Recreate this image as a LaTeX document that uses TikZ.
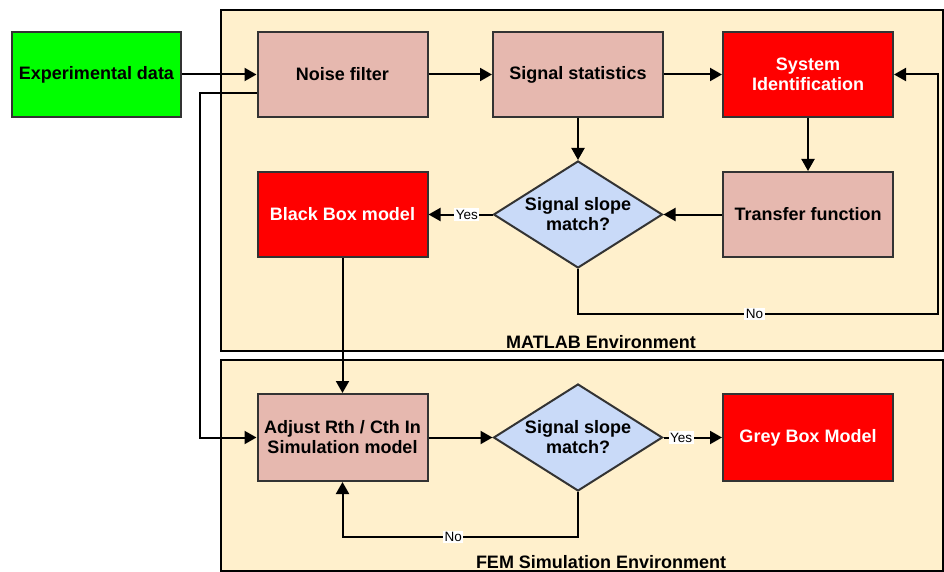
\documentclass[tikz,border=0pt]{standalone}
\usepackage{fontspec}
\setmainfont{Liberation Sans}
\usetikzlibrary{arrows.meta,shapes.geometric,positioning}
\definecolor{envfill}{HTML}{FFF0CC}
\definecolor{pinkfill}{HTML}{E6B8AF}
\definecolor{redfill}{HTML}{FF0000}
\definecolor{greenfill}{HTML}{00FF00}
\definecolor{bluefill}{HTML}{C9DAF8}
\definecolor{boxline}{HTML}{333333}
\tikzset{
  env/.style={draw=black, line width=2pt, fill=envfill},
  base/.style={draw=boxline, line width=2pt, minimum width=170pt, minimum height=85pt, inner sep=0pt, align=center, font=\fontsize{18}{20}\selectfont\bfseries},
  pinkbox/.style={base, fill=pinkfill, text=black},
  redbox/.style={base, fill=redfill, text=white},
  greenbox/.style={base, fill=greenfill, text=black},
  decision/.style={draw=boxline, line width=2pt, fill=bluefill, diamond, aspect=1.58, minimum width=169pt, minimum height=107pt, inner sep=0pt, align=center, font=\fontsize{18}{20}\selectfont\bfseries},
  conn/.style={draw=black, line width=2pt, -{Triangle[length=12pt,width=13pt]}},
  lbl/.style={fill=white, inner sep=1.5pt, font=\fontsize{13.5}{14}\selectfont},
  envlbl/.style={font=\fontsize{18}{20}\selectfont\bfseries},
}
\begin{document}
\begin{tikzpicture}[x=1pt,y=-1pt]
\useasboundingbox (0,0) rectangle (944,572);
% environments
\draw[env] (221,10) rectangle (943,351);
\draw[env] (221,360) rectangle (943,571);
\node[envlbl] (matlabl) at (601,342) {MATLAB Environment};
\node[envlbl] (feml) at (601,562) {FEM Simulation Environment};
% nodes
\node[greenbox, minimum width=169pt] (exp) at (96.5,74.5) {Experimental data};
\node[pinkbox] (noise) at (342.5,74.5) {Noise filter};
\node[pinkbox] (stats) at (578,74.5) {Signal statistics};
\node[redbox] (sysid) at (808,74.5) {System\\Identification};
\node[pinkbox] (tf) at (808,214.5) {Transfer function};
\node[decision] (d1) at (578,214.5) {Signal slope\\match?};
\node[redbox] (black) at (342.5,214.5) {Black Box model};
\node[pinkbox, minimum height=87pt] (adjust) at (342.5,437.5) {Adjust Rth / Cth In\\Simulation model};
\node[decision] (d2) at (578,437.5) {Signal slope\\match?};
\node[redbox, minimum height=87pt] (grey) at (808,437.5) {Grey Box Model};
% helper coordinates
\coordinate (nfout) at (257,93);
\coordinate (c1) at (200,93);
\coordinate (c2) at (200,437.5);
\coordinate (n1a) at (578,314);
\coordinate (n1b) at (938,314);
\coordinate (n1c) at (938,74.5);
\coordinate (n2a) at (578,537);
\coordinate (n2b) at (342.5,537);
% connectors
\draw[conn] (exp.east) -- (noise.west);
\draw[conn] (noise.east) -- (stats.west);
\draw[conn] (stats.east) -- (sysid.west);
\draw[conn] (sysid.south) -- (tf.north);
\draw[conn] (tf.west) -- (d1.east);
\draw[conn] (stats.south) -- (d1.north);
\draw[conn] (d1.west) -- node[lbl, pos=0.4] (yes1) {Yes} (black.east);
\draw[conn] (d1.south) -- (n1a) -- node[lbl, pos=0.49] (no1) {No} (n1b) -- (n1c) -- (sysid.east);
\draw[conn] (black.south) -- (adjust.north);
\draw[conn] (nfout) -- (c1) -- (c2) -- (adjust.west);
\draw[conn] (adjust.east) -- (d2.west);
\draw[conn] (d2.east) -- node[lbl, pos=0.3] (yes2) {Yes} (grey.west);
\draw[conn] (d2.south) -- (n2a) -- node[lbl, pos=0.53] (no2) {No} (n2b) -- (adjust.south);
\end{tikzpicture}
\end{document}
